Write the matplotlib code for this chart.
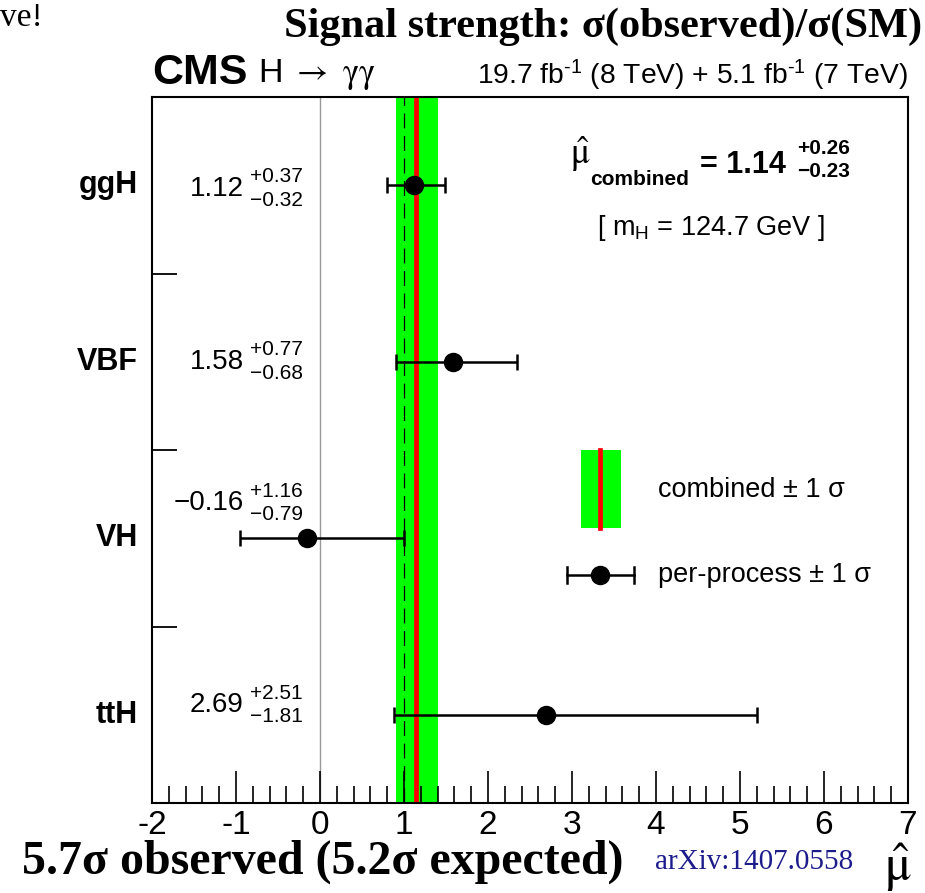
import numpy as np
import matplotlib
matplotlib.use("Agg")
import matplotlib.pyplot as plt
from matplotlib.patches import Rectangle
from matplotlib.lines import Line2D

plt.rcParams['font.family'] = ['Liberation Sans', 'DejaVu Sans']
plt.rcParams['mathtext.fontset'] = 'custom'
plt.rcParams['mathtext.rm'] = 'Liberation Sans'
plt.rcParams['mathtext.it'] = 'Liberation Sans:italic'
plt.rcParams['mathtext.bf'] = 'Liberation Sans:bold'

# per-process signal strengths with asymmetric 1 sigma errors
processes = ['ggH', 'VBF', 'VH', 'ttH']
mu = [1.12, 1.58, -0.16, 2.69]
err_up = [0.37, 0.77, 1.16, 2.51]
err_dn = [0.32, 0.68, 0.79, 1.81]
label_y = [3.48, 2.50, 1.70, 0.555]

mu_comb = 1.14
comb_up = 0.26
comb_dn = 0.23

xticks = np.arange(-2, 8, 1)
xticklabels = ['-2', '-1', '0', '1', '2', '3', '4', '5', '6', '7']

ypos = np.array([3.5, 2.5, 1.5, 0.5])

fig = plt.figure(figsize=(9.25, 8.93), dpi=100)
ax = fig.add_axes([152/925, 90/893, 756/925, 706/893])
ax.set_xlim(-2, 7)
ax.set_ylim(0, 4)

# combined band, central value and SM reference
ax.axvspan(mu_comb - comb_dn, mu_comb + comb_up, color='#00ff00', lw=0, zorder=1)
ax.axvline(mu_comb, color='#ff0000', lw=3.4, zorder=2)
ax.axvline(1.0, color='black', lw=0.9, dashes=(12, 6), zorder=2)
ax.axvline(0.0, color='#999999', lw=1.0, zorder=1)

ax.errorbar(mu, ypos, xerr=[err_dn, err_up], fmt='o', color='black',
            markersize=13, elinewidth=1.8, capsize=6, capthick=1.8, zorder=5)

def fmt(v):
    return ('%.2f' % v).replace('-', '\u2212')

for m, u, d, yl in zip(mu, err_up, err_dn, label_y):
    ax.text(-0.905, yl, fmt(m), ha='right', va='center', fontsize=20)
    ax.annotate('+' + fmt(u), xy=(-0.835, yl), xytext=(0, 8.5),
                textcoords='offset points', ha='left', va='center', fontsize=15)
    ax.annotate(fmt(-d), xy=(-0.835, yl), xytext=(0, -8.5),
                textcoords='offset points', ha='left', va='center', fontsize=15)

for p, y in zip(processes, ypos):
    ax.text(-2.17, y, p, ha='right', va='center', fontsize=22, fontweight='bold')

# axis styling
ax.set_yticks([1, 2, 3])
ax.set_yticklabels([])
ax.tick_params(axis='y', direction='in', length=18, width=1.3, left=True, right=False)
ax.set_xticks(xticks)
ax.set_xticklabels(xticklabels)
ax.set_xticks(np.arange(-2, 7.01, 0.2), minor=True)
ax.tick_params(axis='x', which='major', direction='in', length=23, width=1.2,
               labelsize=24, pad=5, top=False)
ax.tick_params(axis='x', which='minor', direction='in', length=12, width=1.2, top=False)
for s in ax.spines.values():
    s.set_linewidth(1.5)

# combined result annotation
ax.text(0.553, 0.905, r'$\hat{\mathrm{\mu}}$', transform=ax.transAxes, fontsize=26,
        ha='left', va='baseline', math_fontfamily='stix')
ax.text(0.580, 0.875, 'combined', transform=ax.transAxes, fontsize=15,
        fontweight='bold', ha='left', va='baseline')
ax.text(0.725, 0.893, '= %.2f' % mu_comb, transform=ax.transAxes, fontsize=22,
        fontweight='bold', ha='left', va='baseline')
ax.text(0.853, 0.919, '+%.2f' % comb_up, transform=ax.transAxes, fontsize=15,
        fontweight='bold', ha='left', va='baseline')
ax.text(0.853, 0.886, '\u2212%.2f' % comb_dn, transform=ax.transAxes, fontsize=15,
        fontweight='bold', ha='left', va='baseline')
ax.text(0.739, 0.814, r'[ m$_{\rm H}$ = 124.7 GeV ]', transform=ax.transAxes,
        fontsize=19.5, ha='center', va='center')

# legend drawn by hand
ax.add_patch(Rectangle((0.5675, 0.3895), 0.053, 0.1105, transform=ax.transAxes,
                       facecolor='#00ff00', edgecolor='none', zorder=3))
ax.add_line(Line2D([0.5926, 0.5926], [0.3895, 0.5], transform=ax.transAxes,
                   color='#ff0000', lw=3.4, zorder=4))
ax.text(0.669, 0.4433, 'combined \u00b1 1 \u03c3', transform=ax.transAxes,
        fontsize=19.5, ha='left', va='center')
ax.add_line(Line2D([0.549, 0.6376], [0.3229, 0.3229], transform=ax.transAxes,
                   color='black', lw=1.8, zorder=4))
for xc in (0.549, 0.6376):
    ax.add_line(Line2D([xc, xc], [0.3119, 0.3339], transform=ax.transAxes,
                       color='black', lw=1.8, zorder=4))
ax.add_line(Line2D([0.5926], [0.3229], transform=ax.transAxes, marker='o',
                   color='black', markersize=13, zorder=5))
ax.text(0.669, 0.3229, 'per-process \u00b1 1 \u03c3', transform=ax.transAxes,
        fontsize=19.5, ha='left', va='center')

# labels around the frame
fig.text(152/925, 1 - 73/893, 'CMS', fontsize=31, fontweight='bold',
         ha='left', va='center')
fig.text(258/925, 1 - 75/893, r'H $\rightarrow$ $\mathrm{\gamma\gamma}$', fontsize=24.5,
         ha='left', va='center', math_fontfamily='stix')
fig.text(908/925, 1 - 75/893,
         r'19.7 fb$^{\text{-1}}$ (8 TeV) + 5.1 fb$^{\text{-1}}$ (7 TeV)',
         fontsize=20.3, ha='right', va='center')
fig.text(922/925, 1 - 27/893, 'Signal strength: \u03c3(observed)/\u03c3(SM)',
         family='Liberation Serif', fontsize=30.5, fontweight='bold',
         ha='right', va='center')
fig.text(0.0, 1 - 18/893, 've!', family='Liberation Serif', fontsize=24,
         ha='left', va='center')
fig.text(22/925, 1 - 862/893, '5.7\u03c3 observed (5.2\u03c3 expected)',
         family='Liberation Serif', fontsize=34.5, fontweight='bold',
         ha='left', va='center')
fig.text(655/925, 1 - 862/893, 'arXiv:1407.0558', family='Liberation Serif',
         fontsize=21, color='#1c1c8c', ha='left', va='center')
fig.text(884/925, 1 - 868/893, r'$\hat{\mathrm{\mu}}$', fontsize=36,
         ha='left', va='center', math_fontfamily='stix')

fig.savefig('out.png', dpi=100)
